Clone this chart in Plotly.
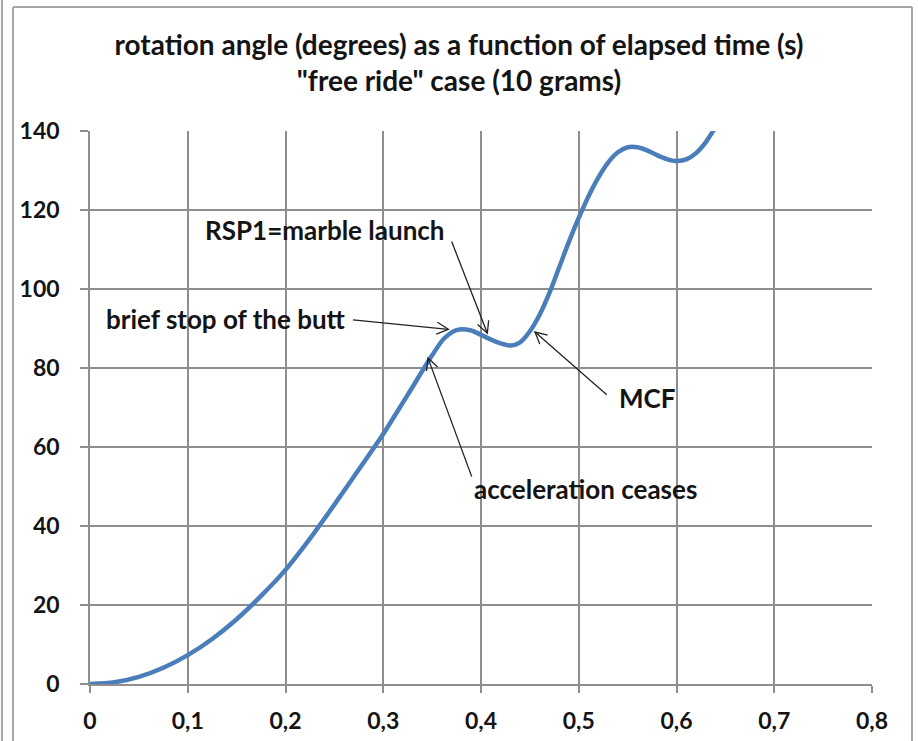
import math
import plotly.graph_objects as go

# ---- data ----
time_s = [0, 0.025, 0.05, 0.075, 0.1, 0.125, 0.15, 0.175, 0.2, 0.225, 0.25, 0.275,
          0.3, 0.325, 0.35, 0.362, 0.375, 0.39, 0.4, 0.415, 0.43, 0.44, 0.45,
          0.46, 0.47, 0.48, 0.49, 0.5, 0.51, 0.52, 0.53, 0.54, 0.55, 0.56, 0.57,
          0.58, 0.59, 0.6, 0.61, 0.62, 0.63, 0.64, 0.65]
angle_deg = [0, 0.45, 1.8, 4.1, 7.3, 11.4, 16.4, 22.3, 28.9, 36.8, 45.4, 54.3,
             63.3, 73.2, 83.2, 87.4, 89.6, 89.5, 88.4, 86.7, 85.7, 86.5, 89.3,
             93.5, 99.0, 105.5, 112.0, 118.0, 123.5, 128.2, 132.0, 134.6, 135.9,
             135.9, 135.1, 133.9, 132.9, 132.4, 132.8, 134.4, 137.2, 141.0, 145.0]

x_tickvals = [0, 0.1, 0.2, 0.3, 0.4, 0.5, 0.6, 0.7, 0.8]
x_ticktext = ["0", "0,1", "0,2", "0,3", "0,4", "0,5", "0,6", "0,7", "0,8"]
y_tickvals = [0, 20, 40, 60, 80, 100, 120, 140]
y_ticktext = ["0", "20", "40", "60", "80", "100", "120", "140"]

title_lines = ["rotation angle (degrees) as a function of elapsed time (s)",
               "\"free ride\" case (10 grams)"]

# annotation labels: text, label position (x, y), arrow tail (x, y), arrow tip (x, y)
notes = [
    ("RSP1=marble launch", (0.2409, 114.9), (0.370, 112.0), (0.4065, 88.8)),
    ("brief stop of the butt", (0.1396, 92.4), (0.269, 92.2), (0.3666, 89.8)),
    ("acceleration ceases", (0.5074, 49.4), (0.3905, 52.5), (0.3458, 82.5)),
    ("MCF", (0.5703, 72.3), (0.5286, 73.2), (0.4552, 89.1)),
]

# ---- layout geometry ----
W, H = 918, 741
ML, MR, MT, MB = 90, 46, 131, 57
XR = [0, 0.8]
YR = [0, 140]
PW = W - ML - MR
PH = H - MT - MB
sx = PW / (XR[1] - XR[0])   # px per x unit
sy = PH / (YR[1] - YR[0])   # px per y unit

FONT = "Lato"
TXT = "#141414"
GRID = "#8e8e8e"

fig = go.Figure()
fig.add_trace(go.Scatter(
    x=time_s, y=angle_deg, mode="lines",
    line=dict(color="#4a7ebb", width=4.5, shape="spline", smoothing=0.8),
    hoverinfo="skip", showlegend=False,
))

shapes = []
annotations = []
for text, (lx, ly), (tx, ty), (hx, hy) in notes:
    annotations.append(dict(
        x=lx, y=ly, xref="x", yref="y", text=text, showarrow=False,
        font=dict(family=FONT, size=26, color=TXT, weight="bold"),
        xanchor="center", yanchor="middle",
    ))
    # arrow shaft
    shapes.append(dict(type="line", xref="x", yref="y", x0=tx, y0=ty, x1=hx, y1=hy,
                       line=dict(color="#222222", width=1.3)))
    # open V arrow head computed in pixel space
    dxp = (hx - tx) * sx
    dyp = (hy - ty) * sy
    ang = math.atan2(dyp, dxp)
    L, A = 13, math.radians(27)
    pts = []
    for s in (+1, -1):
        bx = hx - L * math.cos(ang + s * A) / sx
        by = hy - L * math.sin(ang + s * A) / sy
        pts.append((bx, by))
    path = f"M {pts[0][0]},{pts[0][1]} L {hx},{hy} L {pts[1][0]},{pts[1][1]}"
    shapes.append(dict(type="path", xref="x", yref="y", path=path,
                       line=dict(color="#222222", width=1.3)))


def px2paper_x(px):
    return (px - ML) / PW


def py2paper_y(py):
    return (H - MB - py) / PH


FRAME = "#a6a6a6"
# outer chart frame
shapes += [
    dict(type="line", xref="paper", yref="paper", x0=px2paper_x(13), x1=px2paper_x(912),
         y0=py2paper_y(7), y1=py2paper_y(7), line=dict(color=FRAME, width=2)),
    dict(type="line", xref="paper", yref="paper", x0=px2paper_x(13), x1=px2paper_x(13),
         y0=py2paper_y(7), y1=py2paper_y(745), line=dict(color=FRAME, width=2)),
    dict(type="line", xref="paper", yref="paper", x0=px2paper_x(912), x1=px2paper_x(912),
         y0=py2paper_y(7), y1=py2paper_y(745), line=dict(color=FRAME, width=2)),
    dict(type="line", xref="paper", yref="paper", x0=px2paper_x(2), x1=px2paper_x(2),
         y0=py2paper_y(-5), y1=py2paper_y(745), line=dict(color=FRAME, width=2)),
]

fig.update_layout(
    width=W, height=H,
    margin=dict(l=ML, r=MR, t=MT, b=MB, autoexpand=False),
    paper_bgcolor="white", plot_bgcolor="white",
    title=dict(
        text="<br>".join(title_lines),
        x=0.5, xref="container", xanchor="center",
        y=1 - 55 / H, yref="container", yanchor="middle",
        font=dict(family=FONT, size=28, color=TXT, weight="bold"),
        automargin=False,
    ),
    xaxis=dict(
        range=XR, tickvals=x_tickvals, ticktext=x_ticktext,
        showgrid=True, gridcolor=GRID, gridwidth=1.6,
        showline=True, linecolor=GRID, linewidth=1.6,
        ticks="outside", ticklen=7, tickcolor=GRID, tickwidth=1.6,
        ticklabelstandoff=9, automargin=False,
        tickfont=dict(family=FONT, size=23, color=TXT, weight="bold"),
        zeroline=False, fixedrange=True,
    ),
    yaxis=dict(
        range=YR, tickvals=y_tickvals, ticktext=y_ticktext,
        showgrid=True, gridcolor=GRID, gridwidth=1.6,
        showline=True, linecolor=GRID, linewidth=1.6,
        ticks="outside", ticklen=8, tickcolor=GRID, tickwidth=1.6,
        ticklabelstandoff=16, automargin=False,
        tickfont=dict(family=FONT, size=23, color=TXT, weight="bold"),
        zeroline=False, fixedrange=True,
    ),
    shapes=shapes,
    annotations=annotations,
)

fig.write_html("out.html")
